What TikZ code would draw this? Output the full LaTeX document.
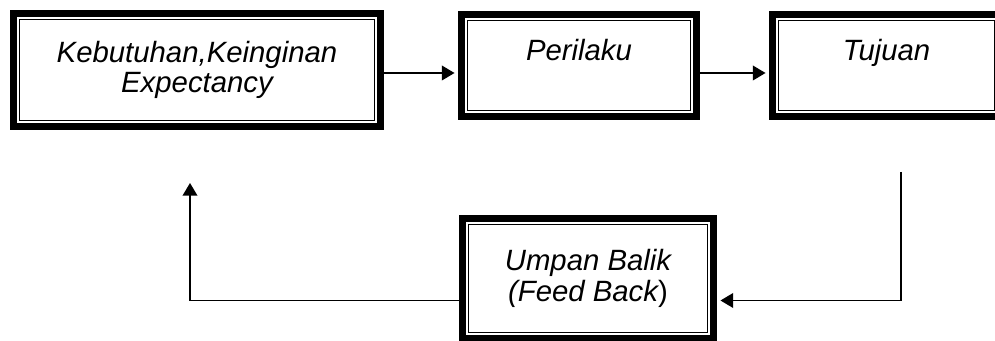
\documentclass[tikz,border=0pt]{standalone}
\usepackage{fontspec}
\setmainfont{Liberation Sans}
\usetikzlibrary{arrows.meta}

\tikzset{
  frame/.style={draw, line width=5.25pt, align=center, inner sep=0pt,
    font=\fontsize{22pt}{22.5pt}\selectfont\itshape,
    path picture={\draw[line width=0.9pt]
      ([shift={(4.6pt,-4.6pt)}]path picture bounding box.north west) rectangle
      ([shift={(-4.6pt,4.6pt)}]path picture bounding box.south east);}},
  toptext/.style={text height=16pt, text depth=22.75pt},
  arr/.style={line width=1.1pt, -{Triangle[length=9.5pt,width=11pt]}, shorten >=2.6pt}
}

\begin{document}
\begin{tikzpicture}[x=0.75pt, y=-0.75pt]
    \useasboundingbox (0,0) rectangle (995,341);
    \node[frame, minimum width=275.25pt, minimum height=84.75pt] (kebutuhan) at (197,70)
      {Kebutuhan,Keinginan\\Expectancy};
    \node[frame, toptext, minimum width=176.25pt, minimum height=76.5pt] (perilaku) at (579,65.5)
      {Perilaku};
    \node[frame, toptext, minimum width=171pt, minimum height=76.5pt] (tujuan) at (886.5,65.5)
      {Tujuan};
    \node[frame, font=\fontsize{22pt}{23.5pt}\selectfont\itshape,
      minimum width=188.25pt, minimum height=90pt] (umpan) at (588,278.5)
      {Umpan Balik\\(Feed Back\upshape)};
    \coordinate (row) at (0,73);
    \coordinate (fbrow) at (0,300.5);
    \coordinate (fbtop) at (901,172);
    \coordinate (fbend) at (190,183);
    \draw[arr] (kebutuhan.east |- row) -- (perilaku.west |- row);
    \draw[arr] (perilaku.east |- row) -- (tujuan.west |- row);
    \draw[arr] (fbtop) |- (umpan.east |- fbrow);
    \draw[arr, shorten >=0pt] (umpan.west |- fbrow) -| (fbend);
\end{tikzpicture}
\end{document}
